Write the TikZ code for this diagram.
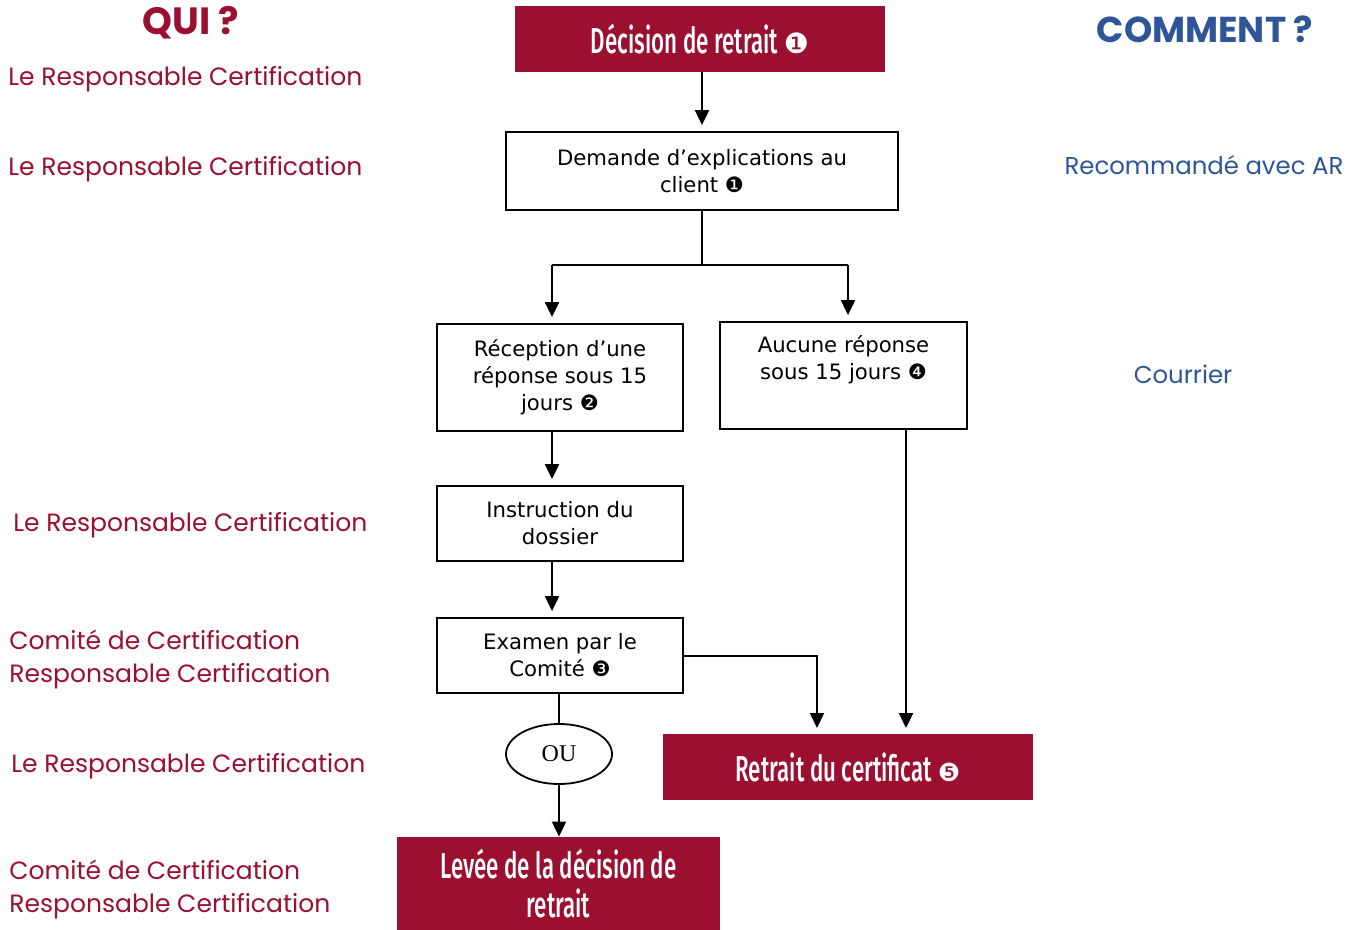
\documentclass[tikz,border=0pt]{standalone}
\usepackage{fontspec}
\usepackage{graphicx}
\usetikzlibrary{arrows.meta,shapes.geometric}
\setmainfont{DejaVu Sans}
\newfontfamily\labfont{Poppins}
\newfontfamily\condfont{Fira Sans Medium}
\newfontfamily\symfont{DejaVu Sans}
\newfontfamily\oufont{Liberation Serif}
\definecolor{bordeaux}{RGB}{155,16,48}
\definecolor{bleu}{RGB}{46,85,151}
\newcommand{\cond}[1]{\scalebox{0.62}[1]{#1}}

\begin{document}
\begin{tikzpicture}[x=0.5pt,y=-0.5pt,
  box/.style={draw,line width=0.9pt,align=center,inner sep=0pt,
    font=\fontsize{10.6}{13.5}\selectfont},
  redbox/.style={fill=bordeaux,text=white,align=center,inner sep=0pt,
    font=\condfont\fontsize{18}{19.5}\selectfont},
  who/.style={anchor=west,text=bordeaux,align=left,inner sep=0pt,
    font=\labfont\fontsize{12.5}{16.5}\selectfont},
  how/.style={text=bleu,inner sep=0pt,font=\labfont\fontsize{12.2}{16.5}\selectfont},
  arr/.style={-{Triangle[length=7.5pt,width=7pt]},line width=1pt,shorten >=3pt},
  link/.style={line width=1pt}]

\useasboundingbox (0,0) rectangle (1360,930);

\node[text=bordeaux,font=\labfont\bfseries\fontsize{19}{20}\selectfont] (qui) at (191,23) {QUI ?};
\node[text=bleu,font=\labfont\bfseries\fontsize{18}{20}\selectfont] (comment) at (1205,29) {COMMENT ?};

\node[who] (who1) at (8,79) {Le Responsable Certification};
\node[who] (who2) at (8,169) {Le Responsable Certification};
\node[who] (who3) at (13,525) {Le Responsable Certification};
\node[who] (who4) at (9,659) {Comité de Certification\\Responsable Certification};
\node[who] (who5) at (11,766) {Le Responsable Certification};
\node[who] (who6) at (9,889) {Comité de Certification\\Responsable Certification};

\node[how] (how1) at (1204,165) {Recommandé avec AR};
\node[how] (how2) at (1183,374) {Courrier};

\node[redbox,minimum width=185pt,minimum height=33pt] (dec) at (700,39)
  {\cond{Décision de retrait}\,{\symfont\fontsize{14}{14}\selectfont ❶}};
\node[box,minimum width=196pt,minimum height=39pt] (dem) at (702,171)
  {Demande d’explications au\\client {\symfont ❶}};
\node[box,minimum width=123pt,minimum height=53.5pt] (rec) at (560,377.5)
  {Réception d’une\\réponse sous 15\\jours {\symfont ❷}};
\node[box,minimum width=123.5pt,minimum height=53.5pt] (auc) at (843.5,375.5)
  {Aucune réponse\\sous 15 jours {\symfont ❹}\\\strut};
\node[box,minimum width=123pt,minimum height=37.5pt] (instr) at (560,523.5)
  {Instruction du\\dossier};
\node[box,minimum width=123pt,minimum height=37.5pt] (exam) at (560,655.5)
  {Examen par le\\Comité {\symfont ❸}};
\node[draw,ellipse,line width=0.9pt,minimum width=53pt,minimum height=30pt,inner sep=0pt,
  font=\oufont\fontsize{12}{14}\selectfont] (ou) at (559,754) {OU};
\node[redbox,minimum width=185pt,minimum height=33pt] (ret) at (848,767)
  {\cond{Retrait du certificat}\,{\symfont\fontsize{12.5}{12.5}\selectfont ❺}};
\node[redbox,minimum width=161.5pt,minimum height=46.5pt] (lev) at (558.5,883.5)
  {\cond{Levée de la décision de}\\\cond{retrait}};

\coordinate (jl) at (552,265);
\coordinate (jr) at (848,265);
\coordinate (r1) at (817,734);
\coordinate (r2) at (906,734);

\draw[arr] (dec.south -| dem.north) to (dem.north);
\draw[link] (dem.south) to (dem.south |- jl);
\draw[link] (jl) to (jr);
\draw[arr] (jl) to (jl |- rec.north);
\draw[arr] (jr) to (jr |- auc.north);
\draw[arr] (rec.south -| jl) to (instr.north -| jl);
\draw[arr] (instr.south -| jl) to (exam.north -| jl);
\draw[arr] (exam.east) -| (r1);
\draw[arr] (auc.south -| r2) to (r2);
\draw[link] (exam.south -| ou) to (ou.north);
\draw[arr,shorten >=0pt] (ou.south) to (ou.south |- lev.north);

\end{tikzpicture}
\end{document}
